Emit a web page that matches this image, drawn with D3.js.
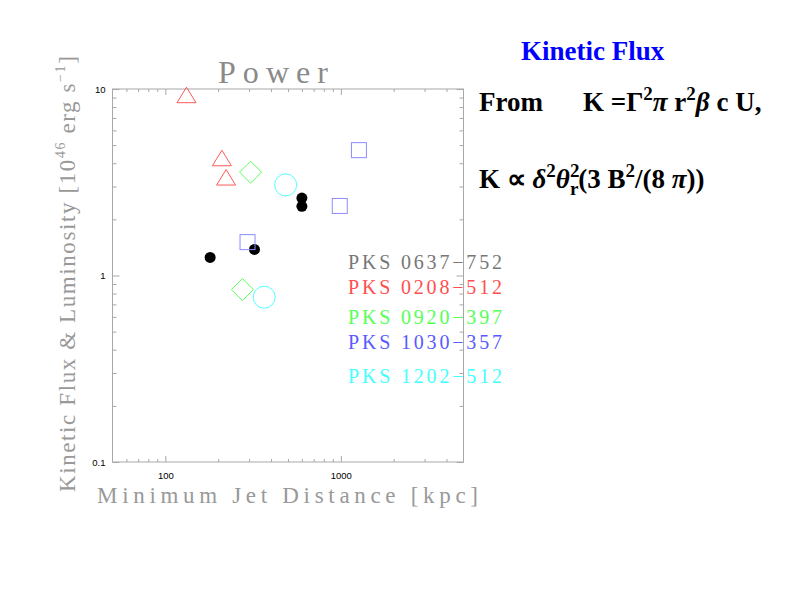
<!DOCTYPE html>
<html lang="en">
<head>
    <meta charset="UTF-8">
    <title>Power - Kinetic Flux</title>
    <script src="https://d3js.org/d3.v7.min.js"></script>
    <style>
        body { margin: 0; background: #fff; }
        .hershey { font-family: "Liberation Serif", "DejaVu Serif", serif; }
        .formula { font-family: "Liberation Serif", "Times New Roman", serif; font-weight: bold; }
    </style>
</head>
<body>
<div id="chart"></div>
<script>
    // Data (x in kpc, y in 1e46 erg/s)
    const seriesNames = ["PKS 0637\u2212752", "PKS 0208\u2212512", "PKS 0920\u2212397", "PKS 1030\u2212357", "PKS 1202\u2212512"];
    const pks0637X = [180, 322, 600, 600];
    const pks0637Y = [1.25, 1.38, 2.6, 2.35];
    const pks0208X = [132, 210, 222];
    const pks0208Y = [9.15, 4.2, 3.31];
    const pks0920X = [306, 275];
    const pks0920Y = [3.58, 0.84];
    const pks1030X = [1268, 986, 294];
    const pks1030Y = [4.7, 2.36, 1.51];
    const pks1202X = [485, 366];
    const pks1202Y = [3.06, 0.765];

    const xMajor = [100, 1000];
    const xMinor = [60, 70, 80, 90, 200, 300, 400, 500, 600, 700, 800, 900, 2000, 3000, 4000];
    const yMajor = [0.1, 1, 10];
    const yMinor = [0.2, 0.3, 0.4, 0.5, 0.6, 0.7, 0.8, 0.9, 2, 3, 4, 5, 6, 7, 8, 9];

    const width = 792, height = 612;
    const box = { left: 112.5, right: 463.5, top: 89, bottom: 462 };

    const x = d3.scaleLog().domain([50, 5000]).range([box.left, box.right]);
    const y = d3.scaleLog().domain([0.1, 10]).range([box.bottom, box.top]);

    const svg = d3.select("#chart").append("svg")
        .attr("width", width)
        .attr("height", height);

    const axisColor = "#a8a8a8";

    // ticks on all four sides, pointing inward
    function drawAxis(axis, tx, ty, labels) {
        const g = svg.append("g")
            .attr("transform", `translate(${tx},${ty})`)
            .call(axis);
        g.select(".domain").remove();
        g.selectAll(".tick line").attr("stroke", axisColor);
        g.selectAll(".tick text")
            .attr("fill", labels ? "#000" : "none")
            .style("font-family", "'Liberation Sans', Arial, sans-serif")
            .style("font-size", "9.5px");
        return g;
    }

    const fmt = d => String(d);
    drawAxis(d3.axisBottom(x).tickValues(xMajor).tickSize(-6).tickPadding(10).tickFormat(fmt), 0, box.bottom, true);
    drawAxis(d3.axisBottom(x).tickValues(xMinor).tickSize(-3).tickFormat(""), 0, box.bottom, false);
    drawAxis(d3.axisTop(x).tickValues(xMajor).tickSize(-6).tickFormat(""), 0, box.top, false);
    drawAxis(d3.axisTop(x).tickValues(xMinor).tickSize(-3).tickFormat(""), 0, box.top, false);
    drawAxis(d3.axisLeft(y).tickValues(yMajor).tickSize(-7).tickPadding(7).tickFormat(fmt), box.left, 0, true);
    drawAxis(d3.axisLeft(y).tickValues(yMinor).tickSize(-4).tickFormat(""), box.left, 0, false);
    drawAxis(d3.axisRight(y).tickValues(yMajor).tickSize(-7).tickFormat(""), box.right, 0, false);
    drawAxis(d3.axisRight(y).tickValues(yMinor).tickSize(-4).tickFormat(""), box.right, 0, false);

    svg.append("rect")
        .attr("x", box.left).attr("y", box.top)
        .attr("width", box.right - box.left).attr("height", box.bottom - box.top)
        .attr("fill", "none").attr("stroke", axisColor).attr("stroke-width", 1);

    // markers
    const zip = (xs, ys) => xs.map((v, i) => ({ x: v, y: ys[i] }));

    svg.append("g").selectAll("circle")
        .data(zip(pks0637X, pks0637Y)).join("circle")
        .attr("cx", d => x(d.x)).attr("cy", d => y(d.y)).attr("r", 5.5)
        .attr("fill", "#000");

    svg.append("g").selectAll("path")
        .data(zip(pks0208X, pks0208Y)).join("path")
        .attr("d", d => {
            const cx = x(d.x), cy = y(d.y);
            return `M${cx - 9.5},${cy + 6.5}L${cx + 9.5},${cy + 6.5}L${cx},${cy - 9}Z`;
        })
        .attr("fill", "none").attr("stroke", "#ff5a5a").attr("stroke-width", 1);

    svg.append("g").selectAll("path")
        .data(zip(pks0920X, pks0920Y)).join("path")
        .attr("d", d => {
            const cx = x(d.x), cy = y(d.y);
            return `M${cx},${cy - 11}L${cx + 11},${cy}L${cx},${cy + 11}L${cx - 11},${cy}Z`;
        })
        .attr("fill", "none").attr("stroke", "#5aff5a").attr("stroke-width", 1);

    svg.append("g").selectAll("rect")
        .data(zip(pks1030X, pks1030Y)).join("rect")
        .attr("x", d => x(d.x) - 7.5).attr("y", d => y(d.y) - 7.5)
        .attr("width", 15).attr("height", 15)
        .attr("fill", "none").attr("stroke", "#8c8cff").attr("stroke-width", 1);

    svg.append("g").selectAll("circle")
        .data(zip(pks1202X, pks1202Y)).join("circle")
        .attr("cx", d => x(d.x)).attr("cy", d => y(d.y)).attr("r", 11)
        .attr("fill", "none").attr("stroke", "#55ffff").attr("stroke-width", 1);

    // legend labels
    const legendColors = ["#777777", "#ff4f4f", "#55ff55", "#5a5aff", "#44ffff"];
    const legendBase = [269, 294, 324, 349, 383];
    svg.append("g").selectAll("text")
        .data(seriesNames).join("text")
        .attr("class", "hershey")
        .attr("x", 348)
        .attr("y", (d, i) => legendBase[i])
        .attr("fill", (d, i) => legendColors[i])
        .attr("font-size", 20)
        .attr("textLength", 154)
        .attr("lengthAdjust", "spacing")
        .text(d => d);

    // titles
    svg.append("text").attr("class", "hershey")
        .attr("x", 218).attr("y", 83)
        .attr("font-size", 32).attr("fill", "#8a8a8a")
        .attr("textLength", 110).attr("lengthAdjust", "spacing")
        .text("Power");

    svg.append("text").attr("class", "hershey")
        .attr("x", 97).attr("y", 503)
        .attr("font-size", 23).attr("fill", "#999")
        .attr("textLength", 381).attr("lengthAdjust", "spacing")
        .text("Minimum Jet Distance [kpc]");

    const yt = svg.append("text").attr("class", "hershey")
        .attr("transform", "translate(75,492) rotate(-90)")
        .attr("font-size", 23).attr("fill", "#999")
        .attr("letter-spacing", 1.6);
    yt.append("tspan").text("Kinetic Flux & Luminosity [10");
    yt.append("tspan").attr("font-size", 14).attr("dy", -10).text("46");
    yt.append("tspan").attr("dy", 10).text(" erg s");
    yt.append("tspan").attr("font-size", 14).attr("dy", -10).text("\u22121");
    yt.append("tspan").attr("dy", 10).text("]");

    // formula panel
    svg.append("text").attr("class", "formula")
        .attr("x", 521).attr("y", 60)
        .attr("font-size", 27).attr("fill", "#0000ff")
        .text("Kinetic Flux");

    svg.append("text").attr("class", "formula")
        .attr("x", 479).attr("y", 111).attr("font-size", 27)
        .text("From");

    const f1 = svg.append("text").attr("class", "formula")
        .attr("x", 583).attr("y", 111).attr("font-size", 27);
    f1.append("tspan").text("K =\u0393");
    f1.append("tspan").attr("font-size", 19).attr("dy", -11).text("2");
    f1.append("tspan").attr("dy", 11).attr("font-style", "italic").text("\u03c0");
    f1.append("tspan").text(" r");
    f1.append("tspan").attr("font-size", 19).attr("dy", -11).text("2");
    f1.append("tspan").attr("dy", 11).attr("font-style", "italic").text("\u03b2");
    f1.append("tspan").text(" c U,");

    const f2 = svg.append("text").attr("class", "formula")
        .attr("x", 479).attr("y", 188).attr("font-size", 27);
    f2.append("tspan").text("K \u221d ");
    f2.append("tspan").attr("font-style", "italic").text("\u03b4");
    f2.append("tspan").attr("font-size", 19).attr("dy", -11).text("2");
    f2.append("tspan").attr("dy", 11).attr("font-style", "italic").text("\u03b8");
    f2.append("tspan").attr("font-size", 19).attr("dy", -11).text("2");
    f2.append("tspan").attr("font-size", 19).attr("dx", -9.5).attr("dy", 18).text("r");
    f2.append("tspan").attr("dy", -7).text("(3 B");
    f2.append("tspan").attr("font-size", 19).attr("dy", -11).text("2");
    f2.append("tspan").attr("dy", 11).text("/(8 ");
    f2.append("tspan").attr("font-style", "italic").text("\u03c0");
    f2.append("tspan").text("))");
</script>
</body>
</html>
